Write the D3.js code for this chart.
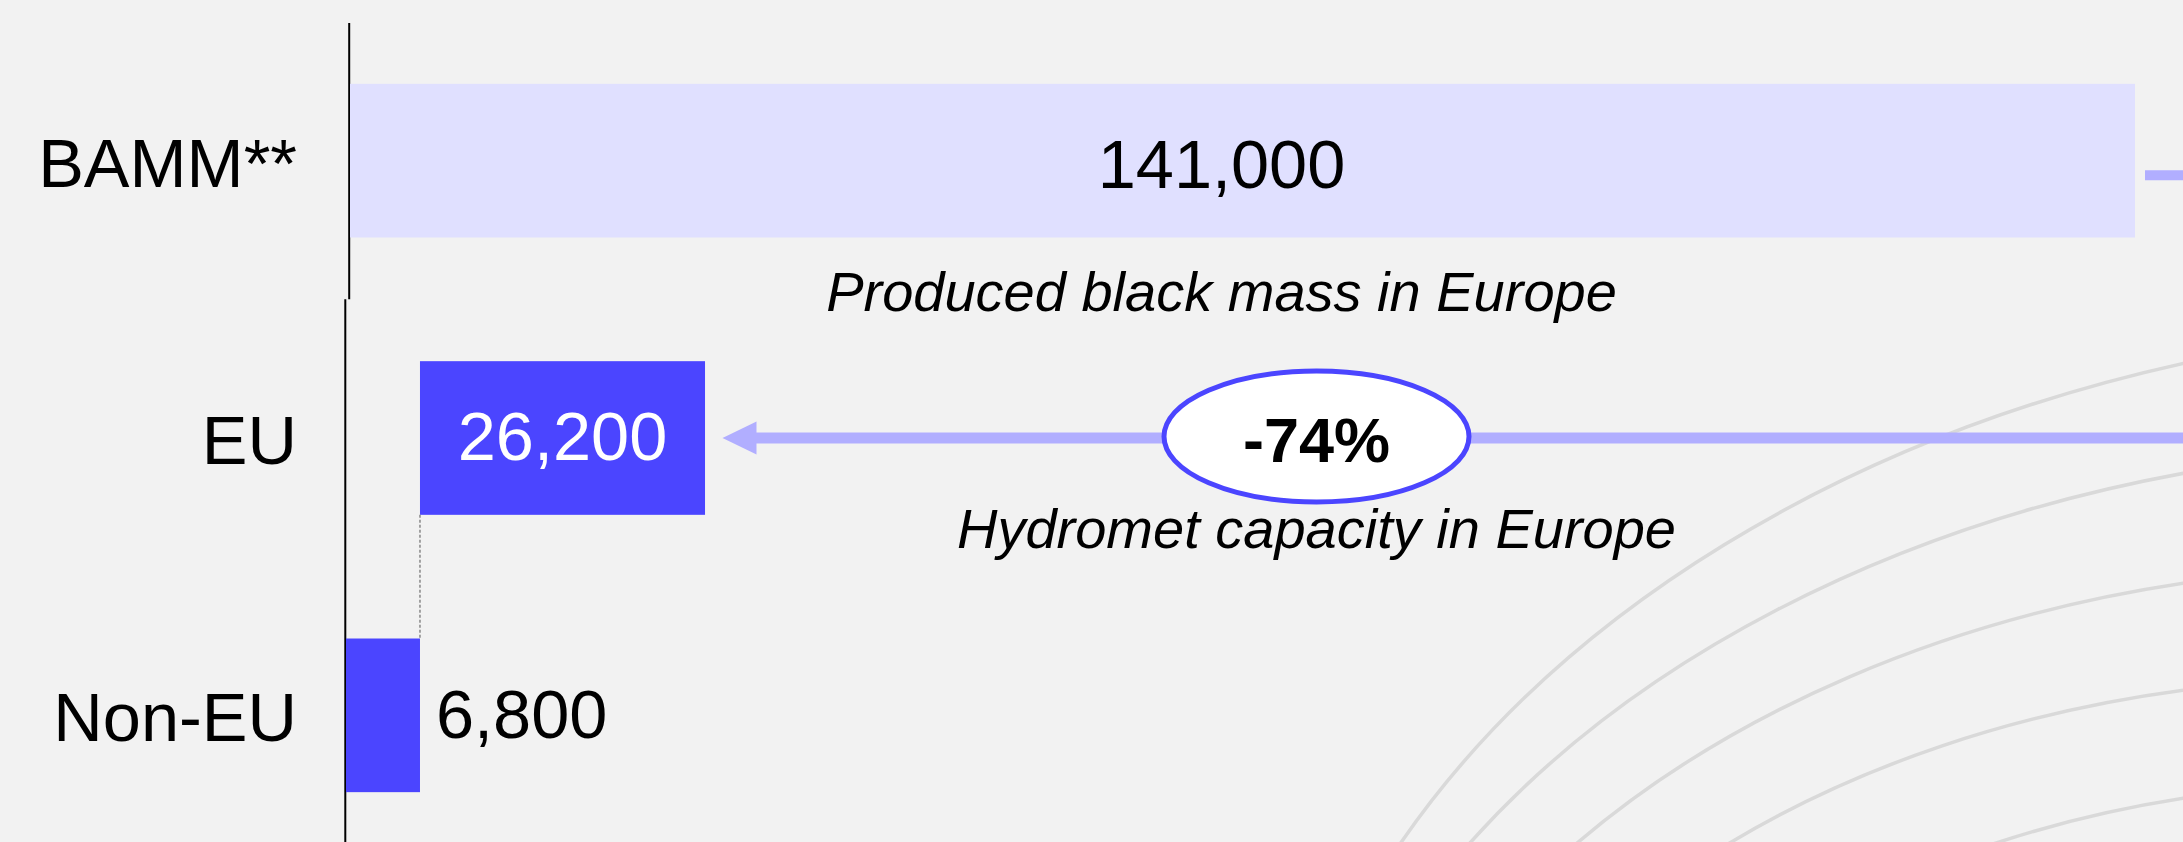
<!DOCTYPE html>
<html>
<head>
<meta charset="utf-8">
<script src="https://cdn.jsdelivr.net/npm/d3@7"></script>
<style>
  body { margin: 0; background: #f2f2f2; }
  svg { display: block; font-family: "Liberation Sans", Arial, sans-serif; }
</style>
</head>
<body>
<script>
// data
var categories = ['BAMM**', 'EU', 'Non-EU'];
var values = [141000, 26200, 6800];
var offsets = [0, 6800, 0];          // EU bar sits on top of the non-EU share
var captions = ['Produced black mass in Europe', 'Hydromet capacity in Europe'];
var changeLabel = '-74%';

var W = 2183, H = 842;
var dark = '#4b45ff', light = '#e0e0ff', arrowCol = '#b1aeff';

// decorative background arcs: where each one leaves the bottom / right edge
var bgArcs = [
  { bx: 1400, ry: 363, r: [1300, 940] },
  { bx: 1469, ry: 473, r: [1200, 860] },
  { bx: 1576, ry: 583, r: [1080, 770] },
  { bx: 1728, ry: 690, r: [980, 690] },
  { bx: 1993, ry: 798, r: [900, 630] }
];

var svg = d3.select('body').append('svg')
  .attr('width', W)
  .attr('height', H);

svg.append('rect')
  .attr('width', W)
  .attr('height', H)
  .attr('fill', '#f2f2f2');

svg.selectAll('path.arc')
  .data(bgArcs)
  .enter().append('path')
  .attr('class', 'arc')
  .attr('d', function(d) {
    return 'M' + d.bx + ',' + (H + 2) + ' A' + d.r[0] + ',' + d.r[1] + ' 0 0 1 ' + (W + 2) + ',' + d.ry;
  })
  .attr('fill', 'none')
  .attr('stroke', '#d9d9d9')
  .attr('stroke-width', 3.5);

var y = d3.scaleBand()
  .domain(categories)
  .range([22, 854])
  .paddingInner(0.446)
  .paddingOuter(0.223);

// the top panel (BAMM) and the lower panel use their own widths
var xTop = d3.scaleLinear().domain([0, 141000]).range([350, 2135]);
var xLow = d3.scaleLinear().domain([0, 141000]).range([346, 1880]);
function xs(i) { return i === 0 ? xTop : xLow; }

var bw = y.bandwidth();
var split = y('EU') - y.step() * y.paddingInner() / 2;

// axis lines
svg.append('line')
  .attr('x1', 349.2).attr('x2', 349.2)
  .attr('y1', 23).attr('y2', split)
  .attr('stroke', '#000').attr('stroke-width', 2);
svg.append('line')
  .attr('x1', 345.3).attr('x2', 345.3)
  .attr('y1', split).attr('y2', H)
  .attr('stroke', '#000').attr('stroke-width', 2);

// bars
svg.selectAll('rect.bar')
  .data(values)
  .enter().append('rect')
  .attr('class', 'bar')
  .attr('x', function(d, i) { return xs(i)(offsets[i]); })
  .attr('y', function(d, i) { return y(categories[i]); })
  .attr('width', function(d, i) { return xs(i)(offsets[i] + d) - xs(i)(offsets[i]); })
  .attr('height', bw)
  .attr('fill', function(d, i) { return i === 0 ? light : dark; });

// dotted step between EU and non-EU
svg.append('line')
  .attr('x1', xLow(values[2])).attr('x2', xLow(values[2]))
  .attr('y1', y('EU') + bw).attr('y2', y('Non-EU'))
  .attr('stroke', '#888').attr('stroke-width', 1.5)
  .attr('stroke-dasharray', '3,2');

// category labels
svg.selectAll('text.cat')
  .data(categories)
  .enter().append('text')
  .attr('class', 'cat')
  .attr('x', 297)
  .attr('y', function(d) { return y(d) + bw / 2 + 26; })
  .attr('text-anchor', 'end')
  .attr('font-size', 68.5)
  .attr('fill', '#000')
  .text(function(d) { return d; });

var fmt = d3.format(',');
var topMid = xTop(values[0] / 2) - 21;
var yBamm = y('BAMM**') + bw / 2;
var yEu = y('EU') + bw / 2;
var yNon = y('Non-EU') + bw / 2;

// value labels
svg.append('text')
  .attr('x', topMid).attr('y', yBamm + 27)
  .attr('text-anchor', 'middle')
  .attr('font-size', 68.5)
  .text(fmt(values[0]));

svg.append('text')
  .attr('x', (xLow(offsets[1]) + xLow(offsets[1] + values[1])) / 2)
  .attr('y', yEu + 22)
  .attr('text-anchor', 'middle')
  .attr('font-size', 68.5)
  .attr('fill', '#fff')
  .text(fmt(values[1]));

svg.append('text')
  .attr('x', xLow(values[2]) + 16)
  .attr('y', yNon + 23)
  .attr('font-size', 68.5)
  .text(fmt(values[2]));

// captions
svg.append('text')
  .attr('x', topMid).attr('y', yBamm + 150)
  .attr('text-anchor', 'middle')
  .attr('font-size', 56)
  .attr('font-style', 'italic')
  .text(captions[0]);

var bubbleX = 1316.5;

svg.append('text')
  .attr('x', bubbleX).attr('y', yEu + 110)
  .attr('text-anchor', 'middle')
  .attr('font-size', 56)
  .attr('font-style', 'italic')
  .text(captions[1]);

// connector coming off the BAMM bar
svg.append('line')
  .attr('x1', xTop(values[0]) + 10).attr('x2', W)
  .attr('y1', yBamm + 14.5).attr('y2', yBamm + 14.5)
  .attr('stroke', arrowCol).attr('stroke-width', 10);

// arrow pointing back to the EU bar
var tip = xLow(offsets[1] + values[1]) + 17.5;
svg.append('line')
  .attr('x1', tip + 30).attr('x2', W)
  .attr('y1', yEu).attr('y2', yEu)
  .attr('stroke', arrowCol).attr('stroke-width', 11);

svg.append('path')
  .attr('d', 'M' + tip + ',' + yEu +
    ' L' + (tip + 34) + ',' + (yEu - 16.5) +
    ' L' + (tip + 34) + ',' + (yEu + 16.5) + ' Z')
  .attr('fill', arrowCol);

svg.append('ellipse')
  .attr('cx', bubbleX).attr('cy', yEu - 1.5)
  .attr('rx', 152.5).attr('ry', 65.5)
  .attr('fill', '#fff')
  .attr('stroke', dark)
  .attr('stroke-width', 5);

svg.append('text')
  .attr('x', bubbleX).attr('y', yEu + 24)
  .attr('text-anchor', 'middle')
  .attr('font-size', 63)
  .attr('font-weight', 'bold')
  .text(changeLabel);
</script>
</body>
</html>
